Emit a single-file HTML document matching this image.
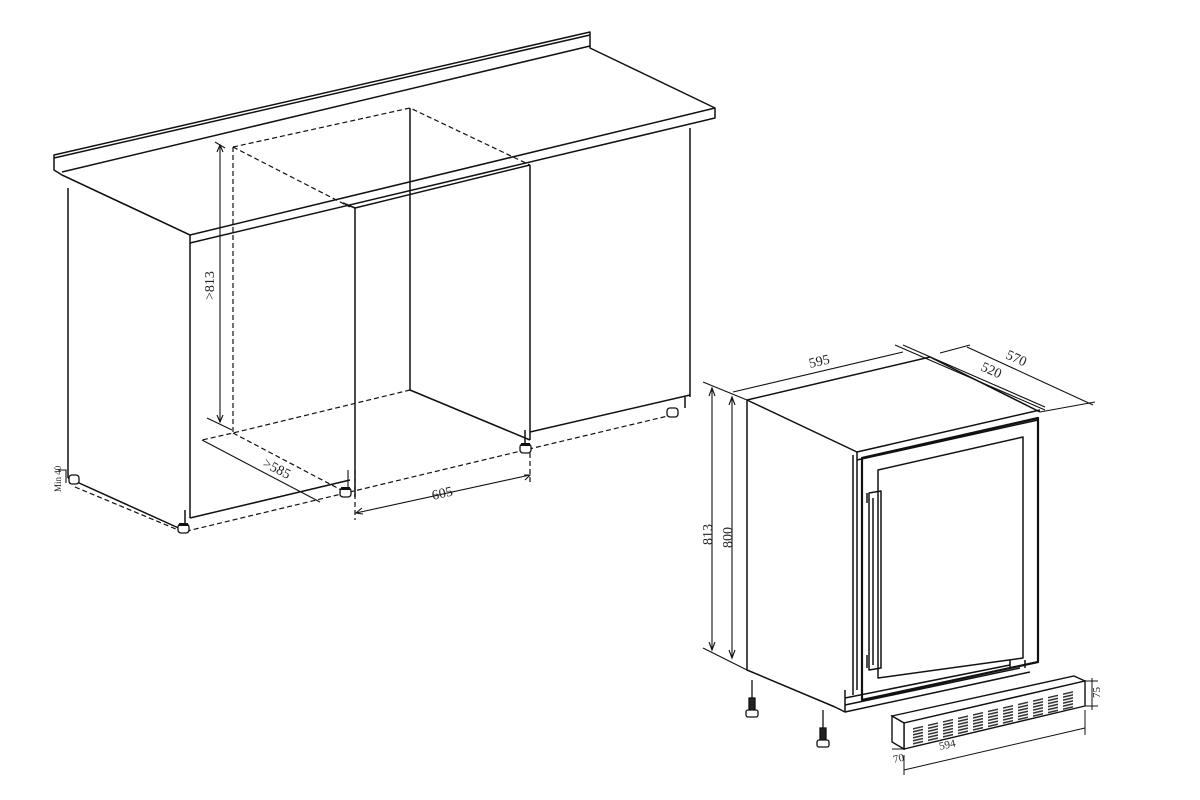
<!DOCTYPE html>
<html><head><meta charset="utf-8"><style>
html,body{margin:0;padding:0;background:#fff;width:1200px;height:800px;overflow:hidden}
svg{display:block}
text{font-family:"Liberation Serif",serif;fill:#222}
</style></head><body>
<svg width="1200" height="800" viewBox="0 0 1200 800" xmlns="http://www.w3.org/2000/svg">
<defs>
<pattern id="st" width="4" height="3" patternUnits="userSpaceOnUse"><rect width="4" height="1.6" fill="#333"/></pattern>
</defs>
<g stroke="#111" stroke-width="1.5" fill="none" stroke-linejoin="round">
<path d="M54,155 L590,32 L590,48 L715,108 L715,118 L190,243 L190,235 L62,175 L54,170 Z" fill="#fff"/>
<path d="M62,172 L590,46"/>
<path d="M54,158 L590,35"/>
<path d="M190,235 L715,108"/>
<path d="M62,175 L190,235"/>
<path d="M68,188 L68,478"/>
<path d="M190,243 L190,518"/>
<path d="M68,478 L183,530"/>
<path d="M190,518 L350,480"/>
<path d="M185,510 L185,528"/>
<path d="M355,208 L355,497"/>
<path d="M343,203 L355,208 L530,165"/>
<path d="M530,165 L530,440"/>
<path d="M690,128 L690,397"/>
<path d="M530,432 L690,395"/>
<path d="M685,397 L685,408"/>
<path d="M525,430 L525,445"/>
<path d="M410,108 L410,390 L530,440"/>
</g>
<g stroke="#111" stroke-width="1.2" fill="none" stroke-dasharray="5,3">
<path d="M233,147 L410,108 L530,165"/>
<path d="M233,147 L233,433"/>
<path d="M233,147 L350,207"/>
<path d="M410,390 L233,433 L202,440"/>
<path d="M233,433 L345,492"/>
<path d="M75,487 L183,532 L525,450 L672,415"/>
<path d="M355,470 L355,520"/>
<path d="M530,445 L530,485"/>
</g>
<g stroke="#111" stroke-width="1.1" fill="none">
<path d="M220,145 L220,422"/><path d="M215,142 L225,148"/><path d="M207,418 L232,430"/>
<path d="M217,152 L220,145 L223,152"/><path d="M217,415 L220,422 L223,415"/>
<path d="M202,440 L320,502"/>
<path d="M356,513 L530,475"/><path d="M362,508 L356,513 L363,514"/><path d="M524,475 L530,475 L525,480"/>
<path d="M348,470 L348,497"/>
<path d="M58,470 L66,470 L66,483"/>
</g>
<g fill="#fff" stroke="#111" stroke-width="1.3">
<rect x="178" y="524" width="11" height="9" rx="3"/>
<rect x="340" y="488" width="11" height="9" rx="3"/>
<rect x="520" y="444" width="11" height="9" rx="3"/>
<rect x="667" y="408" width="11" height="9" rx="3"/>
<rect x="69" y="475" width="10" height="9" rx="3"/>
</g>
<g fill="#111"><rect x="179" y="523" width="9" height="3"/><rect x="341" y="487" width="9" height="3"/><rect x="521" y="443" width="9" height="3"/></g>
<text font-size="14" transform="translate(214,300) rotate(-90)">&gt;813</text>
<text font-size="14" transform="translate(262,466) rotate(27)">&gt;585</text>
<text font-size="14" transform="translate(433,500) rotate(-13)">605</text>
<text font-size="9" transform="translate(61,492) rotate(-90)">Min 40</text>

<g stroke="#111" stroke-width="1.5" fill="none" stroke-linejoin="round">
<path d="M747,400 L930,357 L1040,412"/>
<path d="M747,400 L857,452"/>
<path d="M857,452 L1040,410"/>
<path d="M747,400 L747,670 L835,707"/>
<path d="M835,707 L845,712 L1030,672"/>
<path d="M857,452 L857,690"/>
<path d="M853,455 L853,695"/>
<path d="M862,458 L1038,418 L1038,662 L862,700 Z" stroke-width="2.2"/>
<path d="M878,470 L1023,437 L1023,658 L878,678 Z"/>
<path d="M857,460 L1038,420"/>
<path d="M845,690 L845,712"/>
<path d="M845,698 L1010,665"/>
<path d="M845,705 L1020,668"/>
<path d="M1010,660 L1010,667 M1025,660 L1025,668"/>
<path d="M869,493 L881,491 L881,668 L869,670 Z"/>
<path d="M873,498 L873,665"/>
<path d="M867,493 L867,503 M867,655 L867,668"/>
</g>
<g stroke="#111" stroke-width="1.1" fill="none">
<path d="M712,388 L712,650"/><path d="M732,397 L732,658"/>
<path d="M709,396 L712,388 L715,396 M709,642 L712,650 L715,642"/>
<path d="M729,405 L732,397 L735,405 M729,650 L732,658 L735,650"/>
<path d="M703,382 L747,400"/><path d="M703,648 L747,670"/>
<path d="M733,392 L903,352"/><path d="M895,345 L1045,410"/>
<path d="M903,345 L1045,407"/><path d="M967,347 L1093,405"/>
<path d="M940,353 L970,345"/><path d="M1040,412 L1095,402"/>
</g>
<text font-size="14" transform="translate(810,368) rotate(-13)">595</text>
<text font-size="14" transform="translate(980,370) rotate(24)">520</text>
<text font-size="14" transform="translate(1005,358) rotate(24)">570</text>
<text font-size="14" transform="translate(712,545) rotate(-90)">813</text>
<text font-size="14" transform="translate(732,548) rotate(-90)">800</text>
<g stroke="#111" stroke-width="1.3" fill="#fff">
<path d="M752,680 L752,700"/><path d="M823,710 L823,730"/>
<rect x="749" y="698" width="6" height="13" fill="#222"/>
<rect x="746" y="710" width="12" height="7" rx="2"/>
<rect x="820" y="728" width="6" height="13" fill="#222"/>
<rect x="817" y="740" width="12" height="7" rx="2"/>
</g>
<g stroke="#111" stroke-width="1.4" fill="#fff">
<path d="M892,716 L1074,676 L1085,681 L904,723 Z"/>
<path d="M904,723 L1085,681 L1085,706 L904,749 Z"/>
<path d="M892,716 L904,723 L904,749 L892,742 Z"/>
</g>
<g fill="url(#st)">
<g transform="translate(913,734) skewY(-13)">
<rect x="0" y="-6" width="10" height="18"/><rect x="15" y="-6" width="10" height="18"/><rect x="30" y="-6" width="10" height="18"/><rect x="45" y="-6" width="10" height="18"/><rect x="60" y="-6" width="10" height="18"/><rect x="75" y="-6" width="10" height="18"/><rect x="90" y="-6" width="10" height="18"/><rect x="105" y="-6" width="10" height="18"/><rect x="120" y="-6" width="10" height="18"/><rect x="135" y="-6" width="10" height="18"/><rect x="150" y="-6" width="10" height="18"/>
</g>
</g>
<g stroke="#111" stroke-width="1" fill="none">
<path d="M904,755 L904,775"/><path d="M1085,710 L1085,735"/>
<path d="M904,770 L1085,728"/>
<path d="M892,749 L904,749"/>
<path d="M1085,681 L1098,681 M1085,706 L1098,706 M1092,678 L1092,710"/>
</g>
<text font-size="11" transform="translate(940,750) rotate(-13)">594</text>
<text font-size="11" transform="translate(1100,698) rotate(-90)">75</text>
<text font-size="11" transform="translate(894,763) rotate(-13)">70</text>
</svg>
</body></html>
